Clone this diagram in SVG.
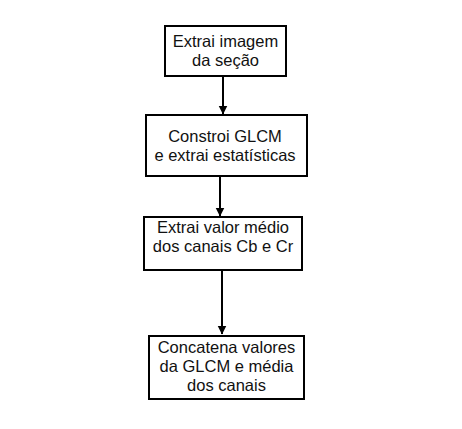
<svg xmlns="http://www.w3.org/2000/svg" width="462" height="429" viewBox="0 0 462 429">
<defs>
<marker id="ah" markerWidth="9" markerHeight="11" refX="8.5" refY="4.5" orient="auto" markerUnits="userSpaceOnUse" viewBox="0 0 9 11"><path d="M0,0 L9,4.5 L0,9 Z" fill="#000"/></marker>
</defs>
<style>
.box{fill:#fff;stroke:#000;stroke-width:2}
.t{font-family:"Liberation Sans",Arial,sans-serif;font-size:16.5px;fill:#111;text-anchor:middle}
.c{stroke:#000;stroke-width:2;fill:none}
</style>
<rect width="462" height="429" fill="#fff"/>
<g id="connectors">
<line class="c" x1="223" y1="77" x2="223" y2="114" marker-end="url(#ah)"/>
<line class="c" x1="220" y1="177" x2="220" y2="216" marker-end="url(#ah)"/>
<line class="c" x1="222" y1="271" x2="222" y2="334" marker-end="url(#ah)"/>
</g>
<g id="n1">
<rect class="box" x="165" y="26" width="121" height="50"/>
<text class="t" x="225.5" y="47">Extrai imagem</text>
<text class="t" x="225.5" y="66">da seção</text>
</g>
<g id="n2">
<rect class="box" x="146" y="115" width="161" height="61"/>
<text class="t" x="225" y="142">Constroi GLCM</text>
<text class="t" x="225" y="161">e extrai estatísticas</text>
</g>
<g id="n3">
<rect class="box" x="144" y="217" width="158" height="53"/>
<text class="t" x="223" y="233">Extrai valor médio</text>
<text class="t" x="223" y="252">dos canais Cb e Cr</text>
</g>
<g id="n4">
<rect class="box" x="149" y="336" width="155" height="63"/>
<text class="t" x="226.5" y="353">Concatena valores</text>
<text class="t" x="226.5" y="372">da GLCM e média</text>
<text class="t" x="226.5" y="391">dos canais</text>
</g>
</svg>
